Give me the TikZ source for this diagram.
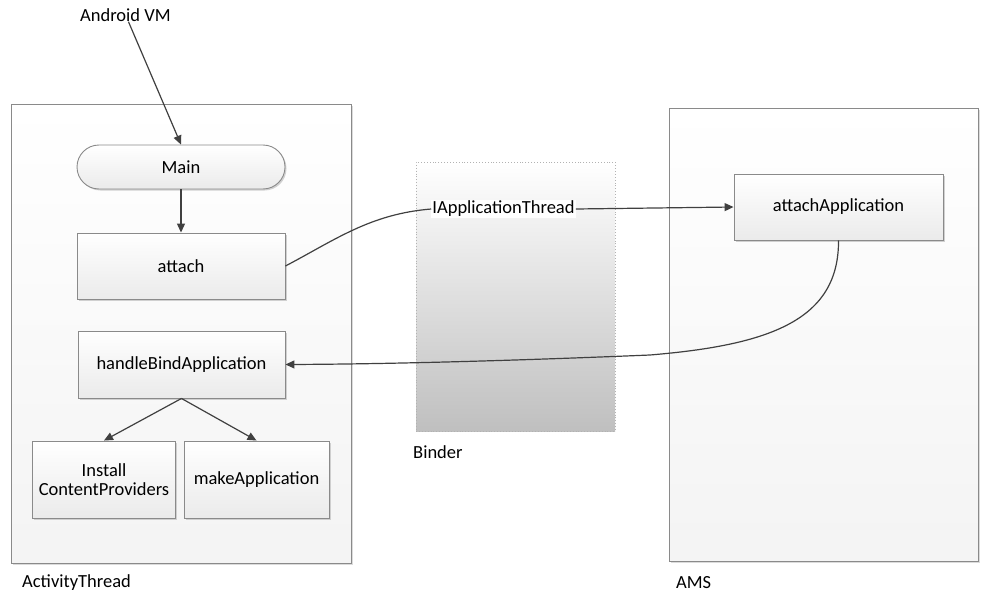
\documentclass[tikz,border=0pt]{standalone}
\usepackage{fontspec}
\setmainfont{Carlito}
\usetikzlibrary{arrows.meta,shadows}
\definecolor{ln}{HTML}{404040}
\definecolor{bd}{HTML}{8A8A8A}
\tikzset{
  txt/.style={font=\fontsize{18.5}{22}\selectfont, text=black},
  arr/.style={draw=ln, line width=1.2pt, -{Triangle[length=9pt,width=8pt]}},
  con/.style={draw=ln, line width=1.2pt},
  frame/.style={draw=bd, line width=0.9pt, top color=white, bottom color=gray!9, inner sep=0pt,
     drop shadow={shadow xshift=1.5pt, shadow yshift=-1.5pt, fill=gray!35, opacity=0.8}},
  binderbox/.style={draw=gray!60, dotted, line width=0.9pt, top color=white, bottom color=gray!50, inner sep=0pt},
  proc/.style={txt, draw=bd, line width=0.9pt, top color=white, bottom color=gray!16, align=center, inner sep=2pt,
     drop shadow={shadow xshift=1.5pt, shadow yshift=-1.5pt, fill=gray!45, opacity=0.8}},
  lab/.style={txt, anchor=west, inner sep=0pt},
}
\begin{document}
\begin{tikzpicture}[x=1pt,y=-1pt]
\useasboundingbox (0,0) rectangle (990,602);
% containers
\node[frame, minimum width=340pt, minimum height=459pt] (at) at (181,333.5) {};
\node[binderbox, minimum width=199pt, minimum height=269pt] (bi) at (515.5,296.5) {};
\node[frame, minimum width=309pt, minimum height=453pt] (ams) at (823.5,334.5) {};
% labels
\node[lab] (atl) at (22,583) {ActivityThread};
\node[lab] (bil) at (413,452) {Binder};
\node[lab] (amsl) at (676,583) {AMS};
\node[lab] (av) at (80,15) {Android VM};
% process nodes
\node[proc, rounded corners=22pt, minimum width=208pt, minimum height=44pt] (main) at (181,167) {Main};
\node[proc, minimum width=208pt, minimum height=66pt] (att) at (181,266) {attach};
\node[proc, minimum width=207pt, minimum height=67pt] (hb) at (181.5,364.5) {handleBindApplication};
\node[proc, minimum width=143pt, minimum height=77pt] (icp) at (104,479.5) {Install\\[-3pt]ContentProviders};
\node[proc, minimum width=145pt, minimum height=77pt] (mk) at (256.5,479.5) {makeApplication};
\node[proc, minimum width=209pt, minimum height=66pt] (aa) at (838.5,207) {attachApplication};
\node[txt, fill=white, inner sep=1pt] (ia) at (503.5,209) {IApplicationThread};
% connectors
\draw[arr] ([xshift=3pt]av.south) -- (main.north);
\draw[arr] (main.south) -- (att.north);
\draw[con] (att.east) .. controls (335,240) and (370,214) .. (ia.west);
\draw[arr] (ia.east) -- (aa.west);
\draw[arr] (aa.south) .. controls (839,320) and (770,345) .. (650,355) .. controls (530,360) and (400,364) .. (hb.east);
\draw[arr] (hb.south) -- (icp.north);
\draw[arr] (hb.south) -- (mk.north);
\end{tikzpicture}
\end{document}
